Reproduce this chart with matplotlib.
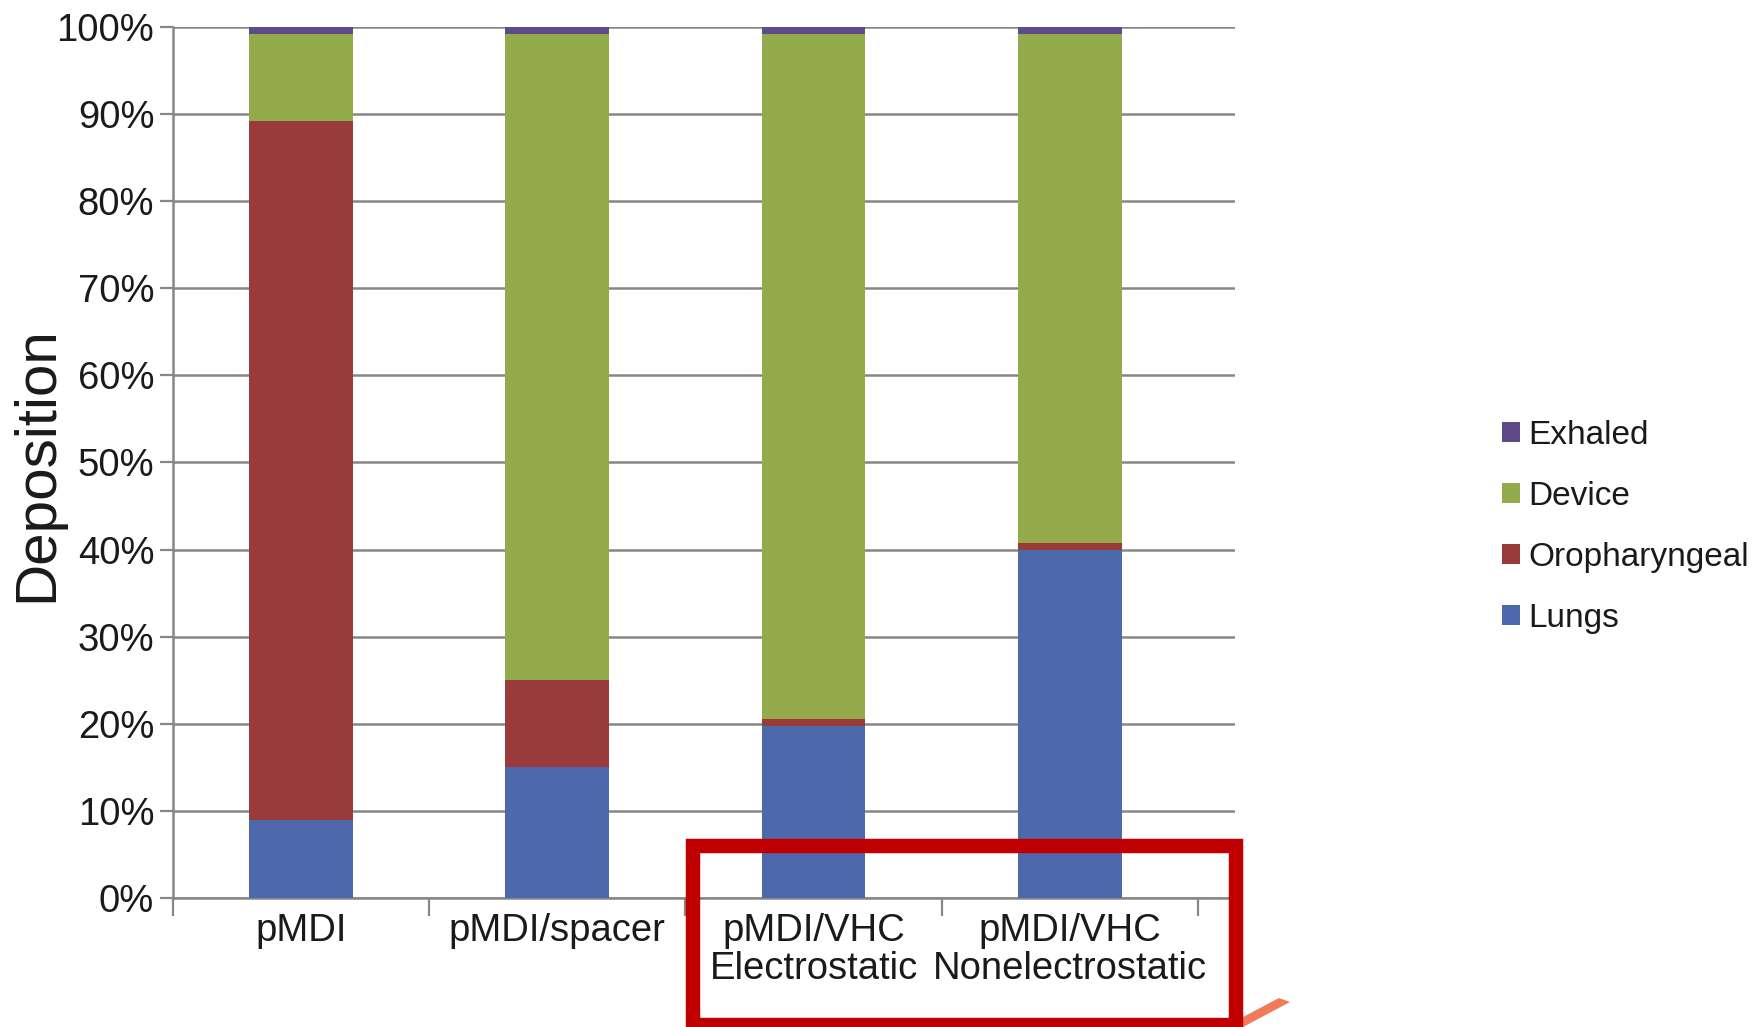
import matplotlib
matplotlib.use("Agg")
import matplotlib.pyplot as plt
from matplotlib.patches import Patch, Rectangle, Polygon
from matplotlib.ticker import FixedLocator, PercentFormatter
import numpy as np

devices = ["pMDI", "pMDI/spacer", "pMDI/VHC\nElectrostatic", "pMDI/VHC\nNonelectrostatic"]
lungs = [9.0, 15.0, 19.8, 40.0]
oropharyngeal = [80.2, 10.0, 0.8, 0.8]
device = [10.0, 74.2, 78.6, 58.4]
exhaled = [0.8, 0.8, 0.8, 0.8]

series = [
    ("Lungs", lungs, "#4d69ac"),
    ("Oropharyngeal", oropharyngeal, "#9a3b3b"),
    ("Device", device, "#93ab4b"),
    ("Exhaled", exhaled, "#5f4a8c"),
]

plt.rcParams.update({"font.family": ["Liberation Sans", "DejaVu Sans"], "text.color": "#1a1a1a"})

fig = plt.figure(figsize=(17.52, 10.27), dpi=100)
ax = fig.add_axes([173 / 1752, 1 - 898 / 1027, (1235 - 173) / 1752, (898 - 27) / 1027])

x = np.arange(len(devices))
bottom = np.zeros(len(devices))
for name, vals, color in series:
    ax.bar(x, vals, width=0.405, bottom=bottom, color=color, linewidth=0, zorder=3, label=name)
    bottom += np.array(vals)

grid_color = "#878787"
ax.set_ylim(0, 100)
ax.set_xlim(-0.5, 3.645)
ax.set_yticks(np.arange(0, 101, 10))
ax.yaxis.set_major_formatter(PercentFormatter(decimals=0))
ax.yaxis.grid(True, color=grid_color, linewidth=1.8, zorder=1)
ax.set_axisbelow(True)

ax.set_xticks(x)
ax.set_xticklabels(devices)
ax.xaxis.set_minor_locator(FixedLocator(np.arange(-0.5, 3.6, 1.0)))
ax.tick_params(axis="x", which="major", length=0, pad=11, labelsize=27.5, labelcolor="#1a1a1a")
ax.tick_params(axis="x", which="minor", length=13, width=1.6, color=grid_color, direction="out")
ax.tick_params(axis="y", length=9.5, width=1.6, color=grid_color, pad=4, labelsize=27.5, labelcolor="#1a1a1a")
for lbl in ax.get_xticklabels():
    lbl.set_linespacing(1.05)

for side in ["top", "right"]:
    ax.spines[side].set_visible(False)
for side in ["left", "bottom"]:
    ax.spines[side].set_color(grid_color)
    ax.spines[side].set_linewidth(1.8)

fig.text(37 / 1752, 1 - 464 / 1027, "Deposition", rotation=90, ha="center", va="center", fontsize=42)

handles = [Patch(facecolor=c, edgecolor="none", label=n) for n, _, c in series][::-1]
fig.legend(handles=handles, loc="center left", bbox_to_anchor=(1502 / 1752, 1 - 527 / 1027),
           frameon=False, fontsize=24, handlelength=0.55, handleheight=0.55,
           handletextpad=0.25, labelspacing=0.9, borderpad=0, borderaxespad=0)

# highlight box around the two valved holding chambers
box_l, box_r, box_t, box_b = 692.5, 1235.5, 846, 1025
fig.patches.append(Rectangle((box_l / 1752, 1 - box_b / 1027), (box_r - box_l) / 1752, (box_b - box_t) / 1027,
                             transform=fig.transFigure, fill=False, edgecolor="#c00000",
                             linewidth=10.4, joinstyle="miter", zorder=10))
stroke = np.array([[1243, 1017], [1279, 998], [1290, 1002], [1243, 1027]])
fig.patches.append(Polygon(np.column_stack([stroke[:, 0] / 1752, 1 - stroke[:, 1] / 1027]),
                           closed=True, transform=fig.transFigure, facecolor="#f07a5a",
                           edgecolor="none", zorder=9))

fig.savefig("out.png", dpi=100, facecolor="white")
